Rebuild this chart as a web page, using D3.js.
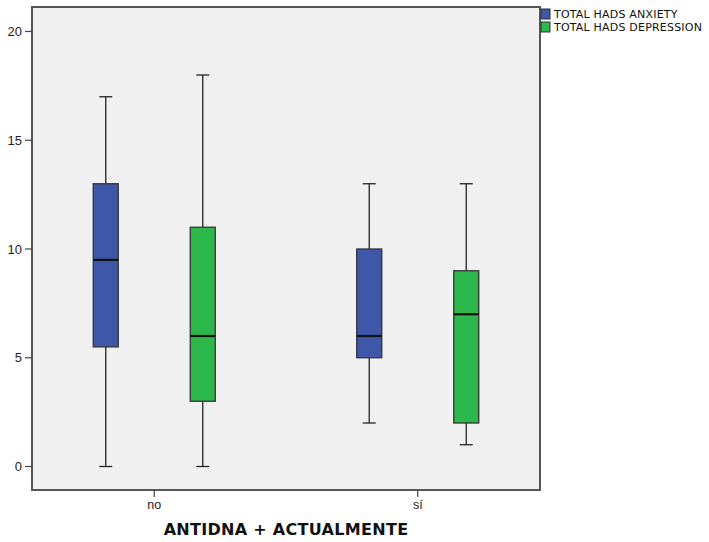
<!DOCTYPE html>
<html>
<head>
<meta charset="utf-8">
<script src="https://cdn.jsdelivr.net/npm/d3@7"></script>
<style>
body { margin: 0; background: #fff; }
text { font-family: "DejaVu Sans", Verdana, sans-serif; }
</style>
</head>
<body>
<script>
var width = 709;
var height = 542;

var groups = ["no", "sí"];
var seriesNames = ["TOTAL HADS ANXIETY", "TOTAL HADS DEPRESSION"];
var seriesColors = ["#3f57a9", "#2db84b"];
var yTicks = [0, 5, 10, 15, 20];

// [min, q1, median, q3, max] for each group
var anxiety = [[0, 5.5, 9.5, 13, 17], [2, 5, 6, 10, 13]];
var depression = [[0, 3, 6, 11, 18], [1, 2, 7, 9, 13]];

var series = [anxiety, depression];

var plot = { left: 32, top: 7, right: 540, bottom: 490 };

var svg = d3.select("body").append("svg")
	.attr("width", width)
	.attr("height", height);

var x = d3.scalePoint()
	.domain(groups)
	.range([plot.left, plot.right])
	.padding(0.464);

var offset = d3.scalePoint()
	.domain([0, 1])
	.range([-48.5, 48.5]);

var y = d3.scaleLinear()
	.domain([0, 20])
	.range([466.5, 31.5]);

svg.append("rect")
	.attr("x", plot.left)
	.attr("y", plot.top)
	.attr("width", plot.right - plot.left)
	.attr("height", plot.bottom - plot.top)
	.style("fill", "#f0f0f0")
	.style("stroke", "#555")
	.style("stroke-width", 2);

// y axis ticks
var yAx = svg.append("g");
yAx.selectAll("line").data(yTicks).enter().append("line")
	.attr("x1", plot.left - 7).attr("x2", plot.left)
	.attr("y1", function(d) { return y(d); })
	.attr("y2", function(d) { return y(d); })
	.style("stroke", "#444").style("stroke-width", 1.2);
yAx.selectAll("text").data(yTicks).enter().append("text")
	.attr("x", plot.left - 10)
	.attr("y", function(d) { return y(d) + 4.7; })
	.attr("text-anchor", "end")
	.style("font-family", "'Liberation Sans', Arial, sans-serif")
	.style("font-size", "13px")
	.style("fill", "#222")
	.text(function(d) { return d; });

// x axis ticks
var xAx = svg.append("g");
xAx.selectAll("line").data(groups).enter().append("line")
	.attr("x1", function(d) { return x(d); })
	.attr("x2", function(d) { return x(d); })
	.attr("y1", plot.bottom).attr("y2", plot.bottom + 7)
	.style("stroke", "#444").style("stroke-width", 1.2);
xAx.selectAll("text").data(groups).enter().append("text")
	.attr("x", function(d) { return x(d); })
	.attr("y", plot.bottom + 19)
	.attr("text-anchor", "middle")
	.style("font-family", "'Liberation Sans', Arial, sans-serif")
	.style("font-size", "12.5px")
	.style("fill", "#222")
	.text(function(d) { return d; });

svg.append("text")
	.attr("x", (plot.left + plot.right) / 2)
	.attr("y", 535)
	.attr("text-anchor", "middle")
	.style("font-size", "16px")
	.style("font-weight", "bold")
	.style("letter-spacing", "0.3px")
	.style("fill", "#111")
	.text("ANTIDNA + ACTUALMENTE");

var boxW = 25;
var capW = 13;

series.forEach(function(s, si) {
	var g = svg.append("g");
	var items = g.selectAll("g").data(s).enter().append("g")
		.attr("transform", function(d, i) {
			return "translate(" + (x(groups[i]) + offset(si)) + ",0)";
		});

	// whiskers
	items.append("line")
		.attr("x1", 0).attr("x2", 0)
		.attr("y1", function(d) { return y(d[0]); })
		.attr("y2", function(d) { return y(d[1]); })
		.style("stroke", "#222").style("stroke-width", 1.3);
	items.append("line")
		.attr("x1", 0).attr("x2", 0)
		.attr("y1", function(d) { return y(d[3]); })
		.attr("y2", function(d) { return y(d[4]); })
		.style("stroke", "#222").style("stroke-width", 1.3);
	items.append("line")
		.attr("x1", -capW / 2).attr("x2", capW / 2)
		.attr("y1", function(d) { return y(d[0]); })
		.attr("y2", function(d) { return y(d[0]); })
		.style("stroke", "#222").style("stroke-width", 1.3);
	items.append("line")
		.attr("x1", -capW / 2).attr("x2", capW / 2)
		.attr("y1", function(d) { return y(d[4]); })
		.attr("y2", function(d) { return y(d[4]); })
		.style("stroke", "#222").style("stroke-width", 1.3);

	items.append("rect")
		.attr("x", -boxW / 2)
		.attr("width", boxW)
		.attr("y", function(d) { return y(d[3]); })
		.attr("height", function(d) { return y(d[1]) - y(d[3]); })
		.style("fill", seriesColors[si])
		.style("stroke", "#333")
		.style("stroke-width", 1.3);

	items.append("line")
		.attr("x1", -boxW / 2).attr("x2", boxW / 2)
		.attr("y1", function(d) { return y(d[2]); })
		.attr("y2", function(d) { return y(d[2]); })
		.style("stroke", "#111").style("stroke-width", 2.2);
});

// legend
var legend = svg.append("g")
	.selectAll("g").data(seriesNames).enter().append("g")
	.attr("transform", function(d, i) { return "translate(541," + (9 + i * 13) + ")"; });
legend.append("rect")
	.attr("width", 9).attr("height", 10)
	.style("fill", function(d, i) { return seriesColors[i]; })
	.style("stroke", "#333").style("stroke-width", 1);
legend.append("text")
	.attr("x", 13).attr("y", 9)
	.style("font-size", "11px")
	.style("letter-spacing", "0.2px")
	.style("fill", "#111")
	.text(function(d) { return d; });
</script>
</body>
</html>
